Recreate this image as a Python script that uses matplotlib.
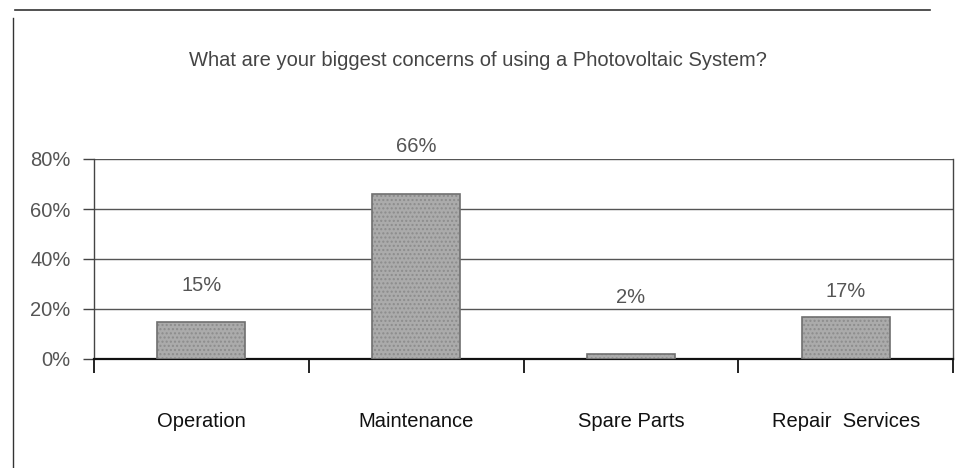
import matplotlib
matplotlib.use("Agg")
import matplotlib.pyplot as plt
from matplotlib.lines import Line2D
from matplotlib.ticker import FixedLocator, PercentFormatter

# Survey results
categories = ["Operation", "Maintenance", "Spare Parts", "Repair  Services"]
shares = [0.15, 0.66, 0.02, 0.17]
value_labels = ["15%", "66%", "2%", "17%"]
y_ticks = [0.0, 0.2, 0.4, 0.6, 0.8]

title = "What are your biggest concerns of using a Photovoltaic System?"

# vertical lift of each value label above its bar (points)
label_lift = [26, 34, 41, 18]

plt.rcParams["font.family"] = ["Liberation Sans", "DejaVu Sans"]

fig = plt.figure(figsize=(9.64, 4.68), dpi=100)
fig.patch.set_facecolor("white")

ax = fig.add_axes([94 / 964, 1 - 359 / 468, (953 - 94) / 964, 200 / 468])

x = list(range(len(categories)))
bars = ax.bar(x, shares, width=0.41, color="#ababab", edgecolor="#707070",
              linewidth=1.2, hatch="....", zorder=3)
for b in bars:
    b._hatch_color = matplotlib.colors.to_rgba("#8c8c8c")

for xi, v, lab, lift in zip(x, shares, value_labels, label_lift):
    ax.annotate(lab, (xi, v), xytext=(0, lift), textcoords="offset points",
                ha="center", va="center", fontsize=14.5, color="#555555")

ax.set_xlim(-0.5, len(categories) - 0.5)
ax.set_ylim(0, 0.8)

ax.yaxis.set_major_locator(FixedLocator(y_ticks))
ax.yaxis.set_major_formatter(PercentFormatter(1.0, decimals=0))
ax.tick_params(axis="y", direction="out", length=8, width=1, color="#444444",
               labelsize=14.5, labelcolor="#555555", pad=9)
ax.grid(axis="y", color="#555555", linewidth=1.0, zorder=1)

ax.set_xticks(x)
ax.set_xticklabels(categories)
ax.tick_params(axis="x", which="major", length=0, pad=38, labelsize=14.5,
               labelcolor="#111111")
ax.set_xticks([i - 0.5 for i in range(len(categories) + 1)], minor=True)
ax.tick_params(axis="x", which="minor", direction="out", length=10, width=1.3,
               color="#111111")

for side in ("left", "right", "top"):
    ax.spines[side].set_color("#444444")
    ax.spines[side].set_linewidth(1.0)
ax.spines["top"].set_visible(False)
ax.spines["bottom"].set_color("#111111")
ax.spines["bottom"].set_linewidth(1.6)

fig.text(478 / 964, 1 - 60 / 468, title, ha="center", va="center",
         fontsize=14.5, color="#444444")

# outer chart frame (top and left edges)
fig.add_artist(Line2D([15 / 964, 930 / 964], [1 - 10 / 468, 1 - 10 / 468],
                      transform=fig.transFigure, color="#333333", linewidth=1.2))
fig.add_artist(Line2D([13 / 964, 13 / 964], [1 - 18 / 468, 0.0],
                      transform=fig.transFigure, color="#333333", linewidth=1.0))

fig.savefig("out.png", dpi=100, facecolor="white")
